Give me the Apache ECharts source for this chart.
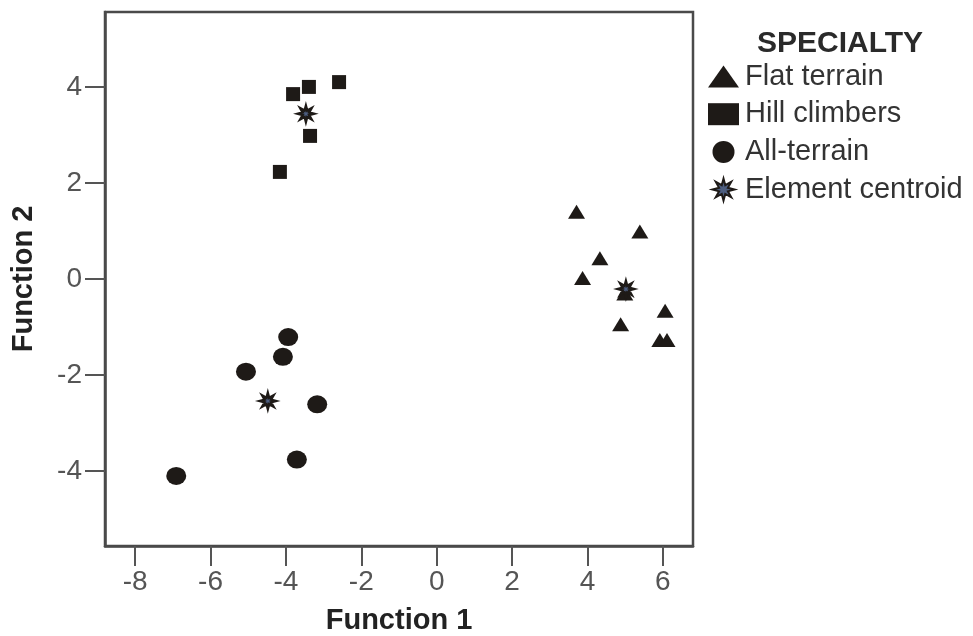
<!DOCTYPE html>
<html>
<head>
<meta charset="utf-8">
<script src="https://cdn.jsdelivr.net/npm/echarts@6/dist/echarts.min.js"></script>
<style>
  html, body { margin: 0; padding: 0; background: #fff; }
  #main { width: 973px; height: 636px; }
</style>
</head>
<body>
<div id="main"></div>
<script>
// discriminant scores
var flatTerrain = [
  [3.71, 1.40], [5.39, 0.99], [4.33, 0.43], [3.87, 0.02], [4.99, -0.30],
  [6.06, -0.66], [4.88, -0.94], [5.92, -1.27], [6.11, -1.27]
];
var hillClimbers = [
  [-2.59, 4.10], [-3.39, 4.00], [-3.81, 3.85], [-3.36, 2.98], [-4.16, 2.23]
];
var allTerrain = [
  [-3.94, -1.21], [-4.08, -1.62], [-5.06, -1.93], [-3.17, -2.61],
  [-3.71, -3.76], [-6.91, -4.10]
];
var centroids = [[5.02, -0.21], [-3.47, 3.44], [-4.48, -2.54]];

var xTicks = [-8, -6, -4, -2, 0, 2, 4, 6];
var yTicks = [-4, -2, 0, 2, 4];

var font = 'Liberation Sans, Arial, sans-serif';
var ink = '#1e1a17';
var axisGrey = '#4a4a4a';
var starPath = 'path://M50,0 L58,30 L85,15 L70,42 L100,50 L70,58 L85,85 L58,70 L50,100 L42,70 L15,85 L30,58 L0,50 L30,42 L15,15 L42,30 Z';

var myChart = echarts.init(document.getElementById('main'));
myChart.setOption({
  animation: false,
  title: {
    text: 'SPECIALTY',
    left: 752, top: 24,
    textStyle: { fontFamily: font, fontSize: 30, fontWeight: 'bold', color: '#2a2a2a' }
  },
  legend: {
    orient: 'vertical',
    left: 703, top: 57,
    itemWidth: 31, itemHeight: 22, itemGap: 8.7,
    textStyle: { fontFamily: font, fontSize: 29, color: '#333', padding: [0, 0, 0, 1] },
    data: ['Flat terrain', 'Hill climbers', 'All-terrain', 'Element centroid']
  },
  grid: {
    left: 105, right: 280, top: 12, bottom: 90,
    outerBoundsMode: 'none',
    show: true, borderColor: axisGrey, borderWidth: 2.5
  },
  xAxis: {
    type: 'value', min: -8.8, max: 6.8,
    name: 'Function 1', nameLocation: 'middle', nameGap: 60,
    nameTextStyle: { fontFamily: font, fontSize: 29, fontWeight: 'bold', color: '#222' },
    axisLine: { show: true, onZero: false, lineStyle: { color: axisGrey, width: 2.5 } },
    axisTick: { show: true, length: 20, customValues: xTicks, lineStyle: { color: '#555', width: 2 } },
    axisLabel: { customValues: xTicks, margin: 22, fontFamily: font, fontSize: 28, color: '#555' },
    splitLine: { show: false }
  },
  yAxis: {
    type: 'value', min: -5.56, max: 5.56,
    name: 'Function 2', nameLocation: 'middle', nameGap: 67,
    nameTextStyle: { fontFamily: font, fontSize: 29, fontWeight: 'bold', color: '#222' },
    axisLine: { show: true, onZero: false, lineStyle: { color: axisGrey, width: 2.5 } },
    axisTick: { show: true, length: 20, customValues: yTicks, lineStyle: { color: '#555', width: 2 } },
    axisLabel: { customValues: yTicks, margin: 23, fontFamily: font, fontSize: 28, color: '#555' },
    splitLine: { show: false }
  },
  series: [
    {
      name: 'Flat terrain', type: 'scatter', data: flatTerrain,
      symbol: 'triangle', symbolSize: [17, 14],
      itemStyle: { color: ink, opacity: 1 }
    },
    {
      name: 'Hill climbers', type: 'scatter', data: hillClimbers,
      symbol: 'rect', symbolSize: 14,
      itemStyle: { color: ink, opacity: 1 }
    },
    {
      name: 'All-terrain', type: 'scatter', data: allTerrain,
      symbol: 'circle', symbolSize: [20, 18],
      itemStyle: { color: ink, opacity: 1 }
    },
    {
      name: 'Element centroid', type: 'scatter', data: centroids,
      symbol: starPath, symbolSize: 16, z: 5,
      itemStyle: { color: '#4d5e80', borderColor: ink, borderWidth: 2.5, opacity: 1 }
    }
  ]
});
</script>
</body>
</html>
